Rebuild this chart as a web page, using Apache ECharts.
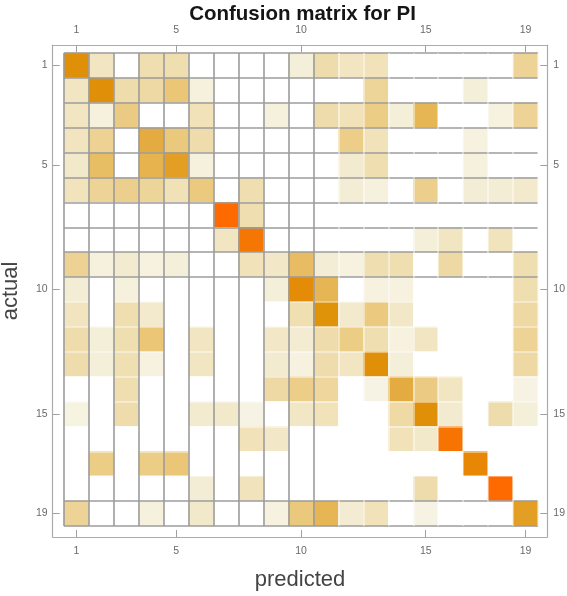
<!DOCTYPE html>
<html>
<head>
<meta charset="utf-8">
<style>
  html, body { margin: 0; padding: 0; background: #fff; }
  #chart { width: 567px; height: 596px; }
</style>
<script src="https://cdn.jsdelivr.net/npm/echarts@6/dist/echarts.min.js"></script>
</head>
<body>
<div id="chart"></div>
<script>
// class labels, same on both axes
var predictedLabels = ['1','2','3','4','5','6','7','8','9','10','11','12','13','14','15','16','17','18','19'];
var actualLabels = ['1','2','3','4','5','6','7','8','9','10','11','12','13','14','15','16','17','18','19'];
var tickLabels = [1, 5, 10, 15, 19];

// shade of each cell (row = actual, column = predicted)
var matrix = [
  [0.84,0.25,0,0.32,0.32,0,0,0,0,0.17,0.33,0.25,0.28,0,0,0,0,0,0.40],
  [0.25,0.84,0.33,0.36,0.50,0.15,0,0,0,0,0,0,0.39,0,0,0,0.17,0,0],
  [0.25,0.15,0.46,0,0,0.28,0,0,0.15,0,0.33,0.28,0.45,0.17,0.60,0,0,0.14,0.40],
  [0.26,0.41,0,0.66,0.48,0.33,0,0,0,0,0,0.44,0.28,0,0,0,0.14,0,0],
  [0.22,0.55,0,0.62,0.75,0.15,0,0,0,0,0,0.20,0.32,0,0,0,0.15,0,0],
  [0.27,0.40,0.43,0.39,0.29,0.47,0,0.32,0,0,0,0.18,0.15,0,0.43,0,0.18,0.18,0.21],
  [0,0,0,0,0,0,1.00,0.32,0,0,0,0,0,0,0,0,0,0,0],
  [0,0,0,0,0,0,0.25,0.95,0,0,0,0,0,0,0.17,0.25,0,0.27,0],
  [0.41,0.15,0.20,0.14,0.17,0,0,0.28,0.23,0.56,0.18,0.14,0.32,0.32,0,0.36,0,0,0.32],
  [0.18,0,0.15,0,0,0,0,0,0.17,0.86,0.60,0,0.14,0.14,0,0,0,0,0.32],
  [0.26,0,0.32,0.21,0,0,0,0,0,0.31,0.83,0.21,0.47,0.23,0,0,0,0,0.36],
  [0.33,0.17,0.32,0.50,0,0.25,0,0,0.23,0.19,0.33,0.45,0.32,0.14,0.25,0,0,0,0.40],
  [0.33,0.17,0.31,0.14,0,0.25,0,0,0.20,0.14,0.33,0.25,0.84,0.17,0,0,0,0,0.36],
  [0,0,0.32,0,0,0,0,0,0.36,0.44,0.38,0,0.12,0.66,0.46,0.25,0,0,0.12],
  [0.13,0,0.33,0,0,0.20,0.22,0.12,0,0.24,0.28,0,0,0.35,0.84,0.20,0,0.33,0.17],
  [0,0,0,0,0,0,0,0.28,0.23,0,0,0,0,0.28,0.22,0.96,0,0,0],
  [0,0.45,0,0.45,0.50,0,0,0,0,0,0,0,0,0,0,0,0.88,0,0],
  [0,0,0,0,0,0.18,0,0.27,0,0,0,0,0,0,0.33,0,0,1.00,0],
  [0.40,0,0,0.15,0,0.22,0,0,0.14,0.48,0.60,0.19,0.28,0,0.12,0,0,0,0.75]
];

var cells = [];
for (var r = 0; r < matrix.length; r++) {
  for (var c = 0; c < matrix[r].length; c++) {
    cells.push([c, r, matrix[r][c]]);
  }
}

// cell area and outer frame, px
var cellBox = { left: 64, top: 53, width: 474, height: 473 };
var frameBox = { left: 52.7, top: 45, width: 494.6, height: 492 };
var cw = cellBox.width / 19, ch = cellBox.height / 19;
var xMin = 0.5 - (cellBox.left - frameBox.left) / cw;
var xMax = 19.5 + (frameBox.left + frameBox.width - cellBox.left - cellBox.width) / cw;
var yMin = 0.5 - (cellBox.top - frameBox.top) / ch;
var yMax = 19.5 + (frameBox.top + frameBox.height - cellBox.top - cellBox.height) / ch;

// mesh: grey on some boundaries, almost invisible on the rest
var grey = '#9c9c9c', faint = 'rgba(255,255,255,0.55)';
var xMesh = [], yMesh = [];
for (var i = 0; i <= 19; i++) {
  xMesh.push(i <= 10 ? grey : faint);
  yMesh.push(i <= 9 || i >= 18 ? grey : faint);
}

var font = 'Liberation Sans';
var frameLine = { show: true, onZero: false, lineStyle: { color: '#ababab', width: 1.2 } };
var frameTick = { show: true, inside: true, length: 7, customValues: tickLabels, lineStyle: { color: '#a0a0a0' } };
var frameLabel = { customValues: tickLabels, color: '#6a6a6a', fontSize: 10.5, fontFamily: font };

var chart = echarts.init(document.getElementById('chart'));
chart.setOption({
  animation: false,
  title: {
    text: 'Confusion matrix for PI',
    left: 297.5, top: -1, textAlign: 'center',
    textStyle: { fontSize: 20.5, fontWeight: 'bold', color: '#151515', fontFamily: font }
  },
  grid: [
    { left: cellBox.left, top: cellBox.top, width: cellBox.width, height: cellBox.height,
      containLabel: false, outerBoundsMode: 'none' },
    { left: frameBox.left, top: frameBox.top, width: frameBox.width, height: frameBox.height,
      containLabel: false, outerBoundsMode: 'none' }
  ],
  xAxis: [
    {
      gridIndex: 0, type: 'category', data: predictedLabels, z: 5,
      axisLine: { show: false }, axisTick: { show: false }, axisLabel: { show: false },
      splitLine: { show: true, interval: 0, lineStyle: { color: xMesh, width: 1.6 } }
    },
    {
      gridIndex: 1, type: 'value', position: 'bottom', min: xMin, max: xMax,
      axisLine: frameLine, axisTick: frameTick,
      axisLabel: Object.assign({ margin: 9 }, frameLabel),
      splitLine: { show: false },
      name: 'predicted', nameLocation: 'middle', nameGap: 32,
      nameTextStyle: { fontSize: 22, color: '#444', fontFamily: font }
    },
    {
      gridIndex: 1, type: 'value', position: 'top', min: xMin, max: xMax,
      axisLine: frameLine, axisTick: frameTick,
      axisLabel: Object.assign({ margin: 9 }, frameLabel),
      splitLine: { show: false }
    }
  ],
  yAxis: [
    {
      gridIndex: 0, type: 'category', data: actualLabels, inverse: true, z: 5,
      axisLine: { show: false }, axisTick: { show: false }, axisLabel: { show: false },
      splitLine: { show: true, interval: 0, lineStyle: { color: yMesh, width: 1.6 } }
    },
    {
      gridIndex: 1, type: 'value', position: 'left', inverse: true, min: yMin, max: yMax,
      axisLine: frameLine, axisTick: frameTick,
      axisLabel: Object.assign({ margin: 5 }, frameLabel),
      splitLine: { show: false },
      name: 'actual', nameLocation: 'middle', nameGap: 31,
      nameTextStyle: { fontSize: 22, color: '#444', fontFamily: font }
    },
    {
      gridIndex: 1, type: 'value', position: 'right', inverse: true, min: yMin, max: yMax,
      axisLine: frameLine, axisTick: frameTick,
      axisLabel: Object.assign({ margin: 6 }, frameLabel),
      splitLine: { show: false }
    }
  ],
  visualMap: {
    show: false, type: 'continuous', min: 0, max: 1, dimension: 2, seriesIndex: 0,
    inRange: { color: ['#ffffff', '#f4efd9', '#efdcab', '#eac676', '#e4ab3e', '#df9208', '#ff6a00'] }
  },
  series: [{
    type: 'heatmap',
    xAxisIndex: 0, yAxisIndex: 0,
    data: cells,
    emphasis: { disabled: true }
  }]
});
</script>
</body>
</html>
